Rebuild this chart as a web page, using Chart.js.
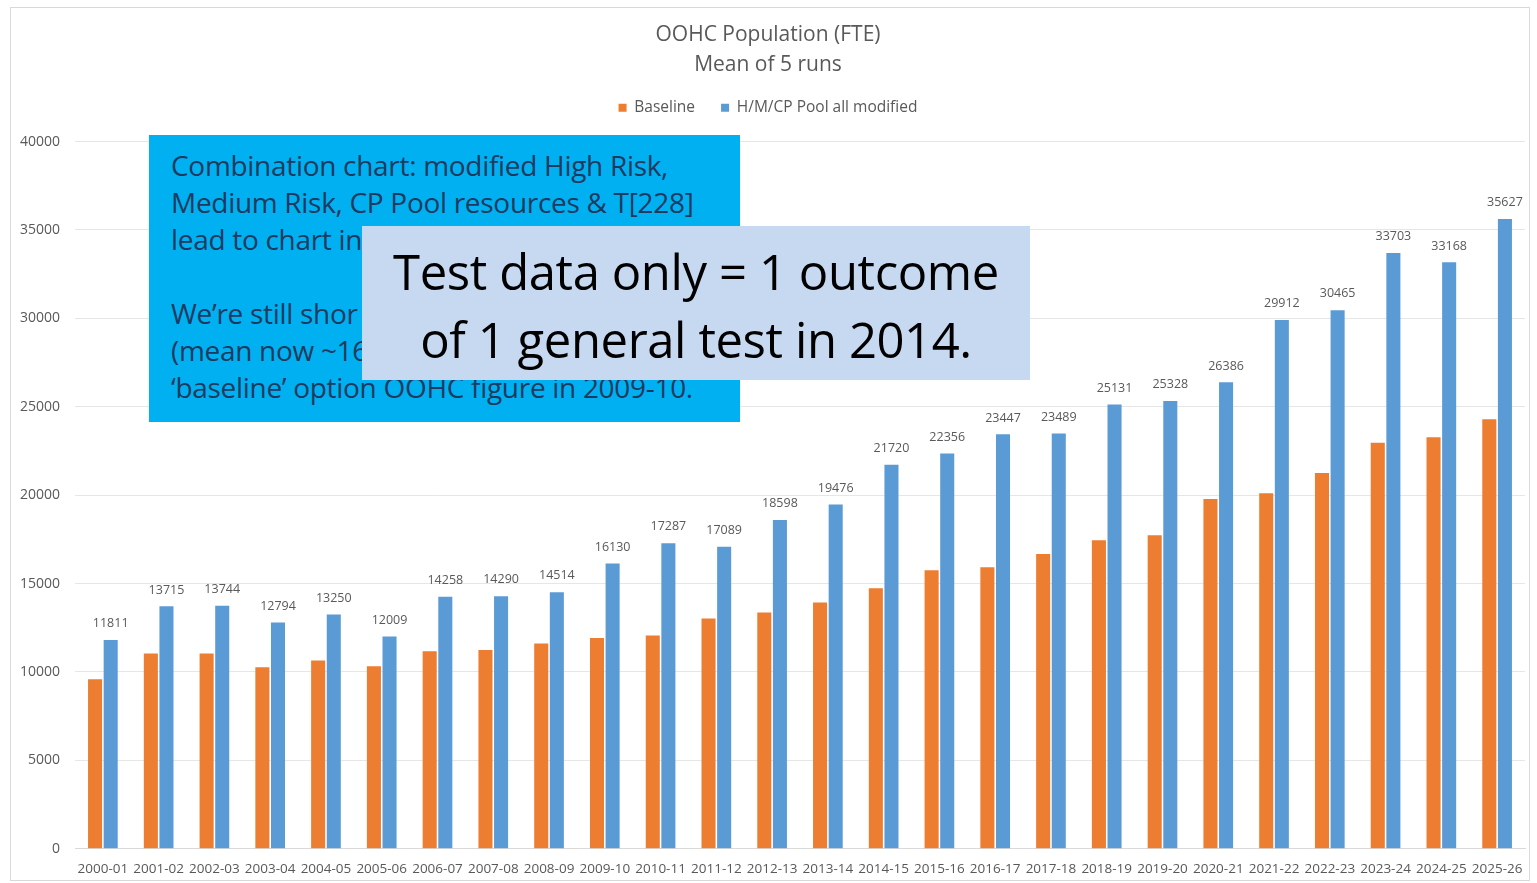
<!DOCTYPE html>
<html>
<head>
<meta charset="utf-8">
<script src="https://cdn.jsdelivr.net/npm/chart.js@4.4.1/dist/chart.umd.min.js"></script>
<style>
  html, body { margin: 0; padding: 0; background: #ffffff; width: 1537px; height: 883px; overflow: hidden; }
  #frame { position: absolute; left: 10px; top: 7px; width: 1518px; height: 872px; border: 1px solid #d9d9d9; background: #fff; }
  #chart { position: absolute; left: 0; top: 0; }
  .note1 { position: absolute; left: 149px; top: 135px; width: 591px; height: 287px; background: #00b0f0; box-sizing: border-box; padding: 12px 0 0 22px;
           font-family: "Open Sans", "Noto Sans", sans-serif; font-size: 28px; line-height: 37px; color: #1f3a5f; white-space: nowrap; overflow: hidden; letter-spacing: -0.3px; }
  .note2 { position: absolute; left: 362px; top: 226px; width: 668px; height: 154px; background: #c6d9f1; box-sizing: border-box; padding-top: 11px;
           font-family: "Open Sans", "Noto Sans", sans-serif; font-size: 49px; line-height: 68px; color: #000; text-align: center; white-space: nowrap; letter-spacing: -0.4px; }
</style>
</head>
<body>
<div id="frame"><canvas id="chart" width="1518" height="872"></canvas></div>
<div class="note1">Combination chart: modified High Risk,<br>Medium Risk, CP Pool resources &amp; T[228]<br>lead to chart in<br><br>We’re still shor<br>(mean now ~16<br>‘baseline’ option OOHC figure in 2009-10.</div>
<div class="note2">Test data only = 1 outcome<br>of 1 general test in 2014.</div>
<script>
const categories = ["2000-01","2001-02","2002-03","2003-04","2004-05","2005-06","2006-07","2007-08","2008-09","2009-10","2010-11","2011-12","2012-13","2013-14","2014-15","2015-16","2016-17","2017-18","2018-19","2019-20","2020-21","2021-22","2022-23","2023-24","2024-25","2025-26"];
const baseline = [9590,11040,11040,10270,10650,10320,11170,11240,11610,11920,12070,13030,13370,13930,14740,15760,15930,16680,17450,17730,19780,20110,21260,22960,23280,24300];
const modified = [11811,13715,13744,12794,13250,12009,14258,14290,14514,16130,17287,17089,18598,19476,21720,22356,23447,23489,25131,25328,26386,29912,30465,33703,33168,35627];
const yTicks = [0,5000,10000,15000,20000,25000,30000,35000,40000];
const titleLines = ["OOHC Population (FTE)", "Mean of 5 runs"];
const seriesNames = ["Baseline", "H/M/CP Pool all modified"];

const gray = "#595959";
const FONT = "'Open Sans', 'Noto Sans', sans-serif";
const labelPlugin = {
  id: "barLabels",
  beforeInit(chart) {
    if (chart.legend) {
      const orig = chart.legend.fit;
      chart.legend.fit = function () { orig.call(this); this.height += 16; };
    }
  },
  afterDatasetsDraw(chart) {
    const ctx = chart.ctx;
    const meta = chart.getDatasetMeta(1);
    ctx.save();
    ctx.font = "12.5px " + FONT;
    ctx.fillStyle = gray;
    ctx.textAlign = "center";
    ctx.textBaseline = "bottom";
    meta.data.forEach((bar, i) => {
      ctx.fillText(String(chart.data.datasets[1].data[i]), bar.x, bar.y - 10);
    });
    ctx.restore();
  }
};

new Chart(document.getElementById("chart"), {
  type: "bar",
  data: {
    labels: categories,
    datasets: [
      { label: seriesNames[0], data: baseline, backgroundColor: "#ed7d31", categoryPercentage: 0.56, barPercentage: 0.9 },
      { label: seriesNames[1], data: modified, backgroundColor: "#5b9bd5", categoryPercentage: 0.56, barPercentage: 0.9 }
    ]
  },
  options: {
    responsive: false,
    animation: false,
    layout: { padding: { left: 0, right: 4, top: 12, bottom: -1 } },
    plugins: {
      title: { display: true, text: titleLines, color: gray, font: { family: FONT, size: 21, weight: "normal", lineHeight: 1.43 }, padding: { top: 0, bottom: -6 } },
      legend: { display: true, position: "top", labels: { color: gray, boxWidth: 8, boxHeight: 8, padding: 26, font: { family: FONT, size: 15.5 } } },
      tooltip: { enabled: false }
    },
    scales: {
      x: {
        grid: { display: false },
        border: { color: "#d9d9d9" },
        ticks: { color: gray, autoSkip: false, maxRotation: 0, minRotation: 0, padding: 4, font: { family: FONT, size: 13.5 } }
      },
      y: {
        min: 0, max: 40000,
        afterBuildTicks(axis) { axis.ticks = yTicks.map(v => ({ value: v })); },
        afterFit(axis) { axis.width = 64; },
        grid: { color: "#e6e6e6", drawTicks: false },
        border: { display: false },
        ticks: { color: gray, padding: 15, callback: v => String(v), font: { family: FONT, size: 14 } }
      }
    }
  },
  plugins: [labelPlugin]
});
</script>
</body>
</html>
